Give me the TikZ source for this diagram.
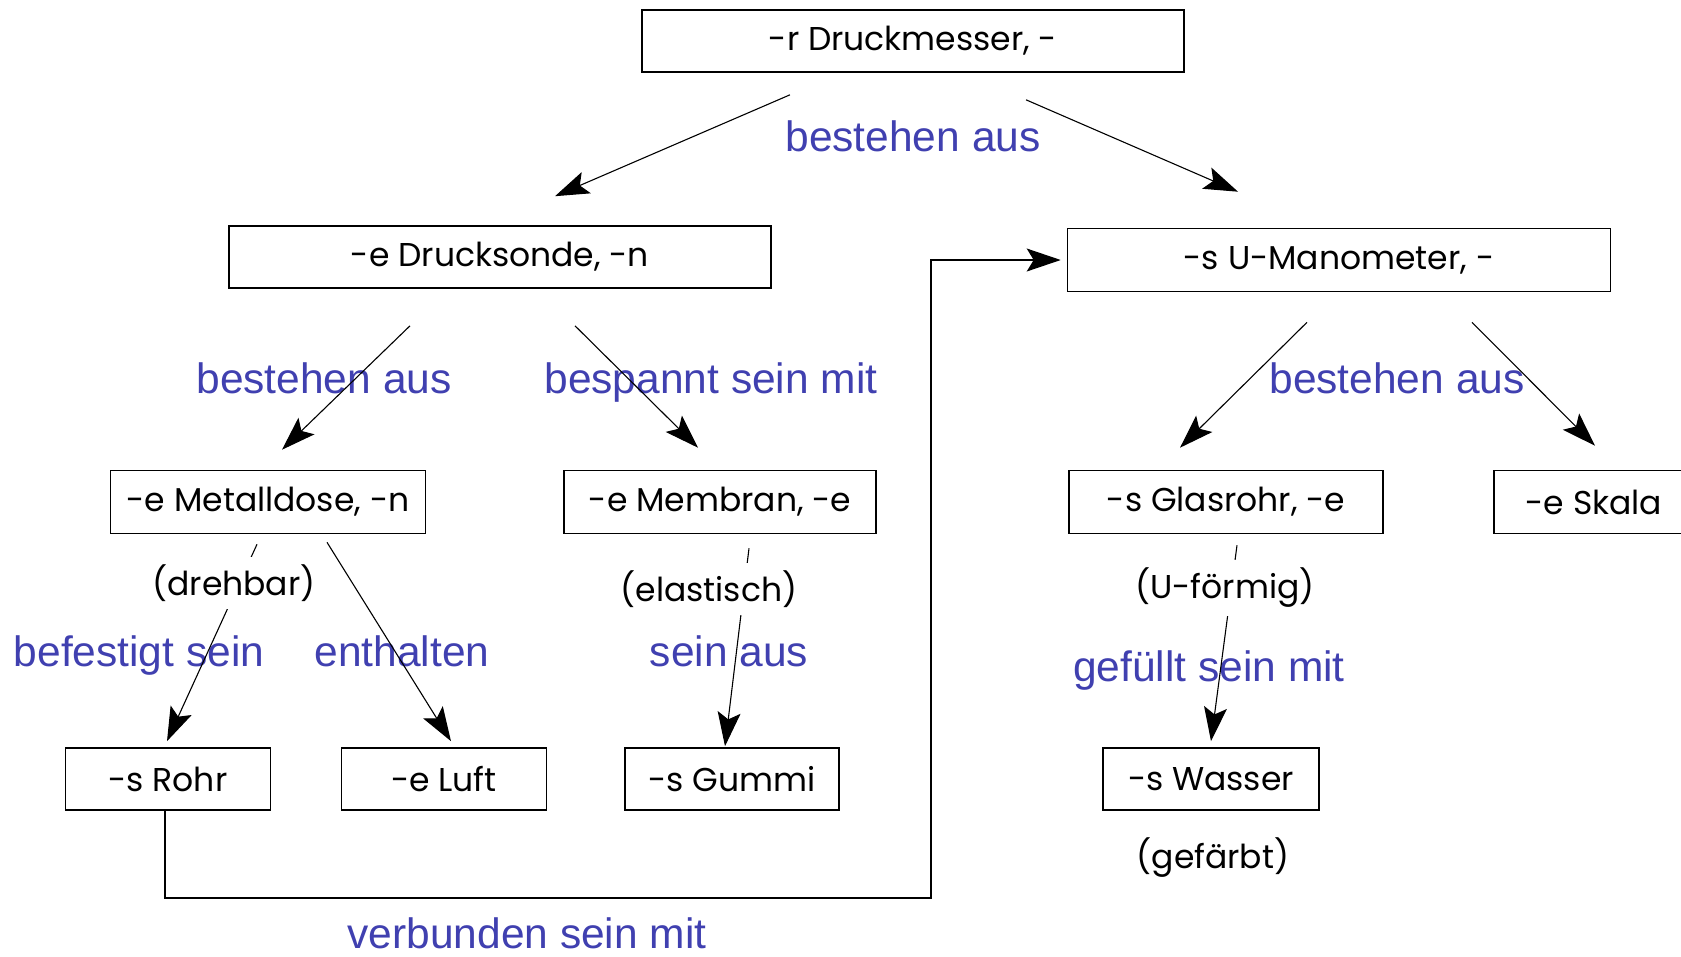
\documentclass[tikz,border=0pt]{standalone}
\usepackage{fontspec}
\setmainfont{Liberation Sans}
\newfontfamily\boxfont{Poppins}
\usetikzlibrary{arrows.meta}
\definecolor{blautext}{RGB}{64,64,176}

\tikzset{
  begriff/.style={draw, line width=1.6pt, inner sep=0pt, minimum height=62pt,
    font=\boxfont\fontsize{33}{40}\selectfont},
  merkmal/.style={fill=white, inner xsep=2pt, inner ysep=8pt,
    font=\boxfont\fontsize{33}{40}\selectfont},
  relation/.style={text=blautext, inner sep=0pt, text height=31pt, text depth=9pt,
    font=\fontsize{42.5}{50}\selectfont},
  pfeil/.style={-{Stealth[length=34pt,width=23pt,inset=7pt]}, line width=1.1pt}
}

\begin{document}
\begin{tikzpicture}[x=1pt, y=-1pt]
        \clip (0,0) rectangle (1681,956);
        \fill[white] (0,0) rectangle (1681,956);
        % Begriffe
        \node[begriff, minimum width=542pt] (mess) at (913,41) {-r Druckmesser, -};
        \node[begriff, minimum width=542pt] (sonde) at (500,257) {-e Drucksonde, -n};
        \node[begriff, minimum width=543pt, minimum height=63pt] (mano) at (1339,260) {-s U-Manometer, -};
        \node[begriff, minimum width=315pt, minimum height=63pt] (dose) at (268,502) {-e Metalldose, -n};
        \node[begriff, minimum width=312pt, minimum height=63pt] (membran) at (720,502) {-e Membran, -e};
        \node[begriff, minimum width=314pt, minimum height=63pt] (glas) at (1226,502) {-s Glasrohr, -e};
        \node[begriff, minimum width=200pt, minimum height=63pt] (skala) at (1594,502) {-e Skala};
        \node[begriff, minimum width=205pt] (rohr) at (168,779) {-s Rohr};
        \node[begriff, minimum width=205pt] (luft) at (444,779) {-e Luft};
        \node[begriff, minimum width=214pt] (gummi) at (732,779) {-s Gummi};
        \node[begriff, minimum width=216pt] (wasser) at (1211,779) {-s Wasser};

        % Relationen
        \node[relation] (r1) at (913,140) {bestehen aus};
        \node[relation] (r2) at (324,382) {bestehen aus};
        \node[relation] (r3) at (711,382) {bespannt sein mit};
        \node[relation] (r4) at (1397,382) {bestehen aus};
        \node[relation] (r5) at (139,655) {befestigt sein};
        \node[relation] (r6) at (402,655) {enthalten};
        \node[relation] (r7) at (729,655) {sein aus};
        \node[relation] (r8) at (1209,670) {gefüllt sein mit};
        \node[relation] (r9) at (527,937) {verbunden sein mit};

        % Pfeile
        \draw[pfeil] ([xshift=-123pt,yshift=-22pt]mess.south) -- ([xshift=55pt,yshift=29pt]sonde.north);
        \draw[pfeil] ([xshift=113pt,yshift=-27pt]mess.south) -- ([xshift=-101pt,yshift=36pt]mano.north);
        \draw[pfeil] ([xshift=-90pt,yshift=-37pt]sonde.south) -- ([xshift=14pt,yshift=20pt]dose.north);
        \draw[pfeil] ([xshift=75pt,yshift=-37pt]sonde.south) -- ([xshift=-22pt,yshift=22pt]membran.north);
        \draw[pfeil] ([xshift=-32pt,yshift=-30pt]mano.south) -- ([xshift=-46pt,yshift=22pt]glas.north);
        \draw[pfeil] ([xshift=133pt,yshift=-30pt]mano.south) -- ([xshift=1pt,yshift=24pt]skala.north);
        \draw[pfeil] ([xshift=-11pt,yshift=-10pt]dose.south) -- ([xshift=-1pt,yshift=6pt]rohr.north);
        \draw[pfeil] ([xshift=59pt,yshift=-8pt]dose.south) -- ([xshift=7pt,yshift=6pt]luft.north);
        \draw[pfeil] ([xshift=29pt,yshift=-14pt]membran.south) -- ([xshift=-7pt,yshift=1pt]gummi.north);
        \draw[pfeil] ([xshift=11pt,yshift=-11pt]glas.south) -- ([yshift=6pt]wasser.north);
        \coordinate (knick) at (931,898);
        \draw[pfeil] ([xshift=-3pt]rohr.south) |- (knick) |- ([xshift=-6pt]mano.west);

        % Merkmale
        \node[merkmal] (m1) at (234,583) {(drehbar)};
        \node[merkmal] (m2) at (709,589) {(elastisch)};
        \node[merkmal] (m3) at (1225,588) {(U-förmig)};
        \node[merkmal] (m4) at (1213,858) {(gefärbt)};
    \end{tikzpicture}
\end{document}
